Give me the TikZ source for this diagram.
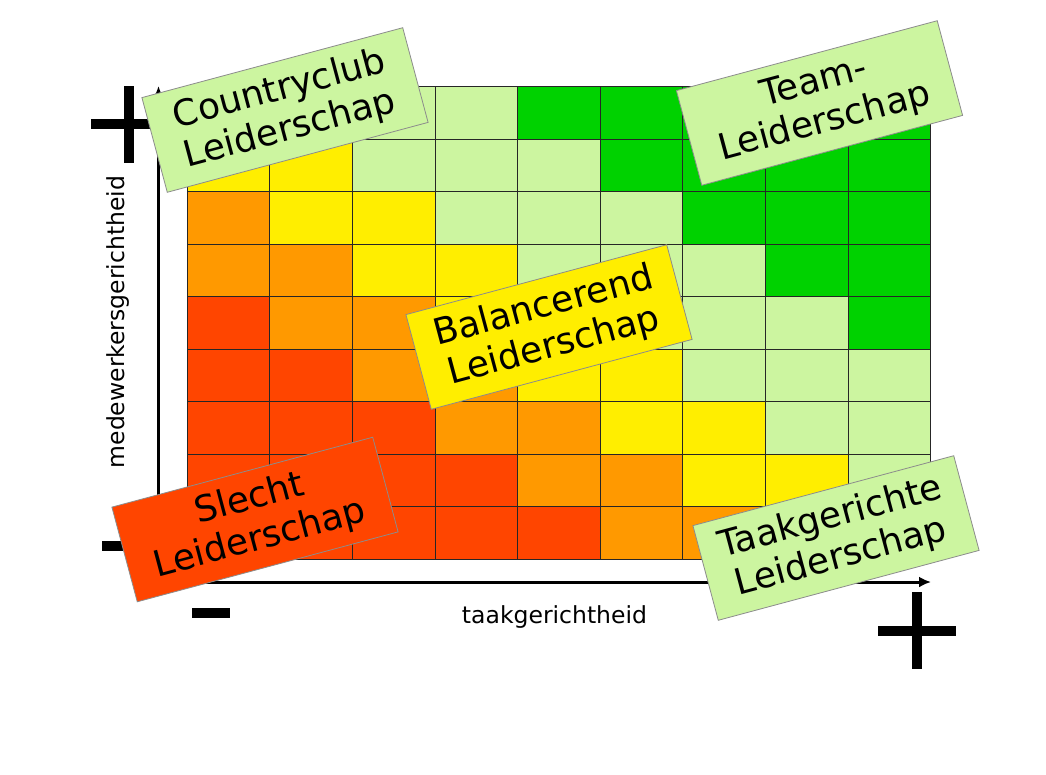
\documentclass[tikz,border=0pt]{standalone}
\usepackage{fontspec}
\setmainfont{DejaVu Sans}
\usetikzlibrary{arrows.meta}
\definecolor{cR}{HTML}{FF4500}
\definecolor{cO}{HTML}{FF9900}
\definecolor{cY}{HTML}{FFEE00}
\definecolor{cL}{HTML}{CCF5A0}
\definecolor{cG}{HTML}{00D200}
\tikzset{
  gridline/.style={draw=black!85, line width=1.1pt},
  axisline/.style={line width=3pt, -{Latex[length=12pt,width=11pt]}},
  signbar/.style={line width=10pt, line cap=butt},
  lbl/.style={draw=black!45, line width=0.8pt, rotate=15, minimum width=270pt,
    minimum height=98pt, align=center, inner sep=0pt,
    font=\fontsize{36}{41}\selectfont},
  axlabel/.style={font=\fontsize{23.5}{28}\selectfont, inner sep=0pt}
}
\begin{document}
\begin{tikzpicture}[x=1pt,y=-1pt]
\useasboundingbox (0,0) rectangle (1046,774);
\fill[white] (0,0) rectangle (1046,774);
% grid cells
\foreach \row [count=\r from 0] in {
  {Y,L,L,L,G,G,G,G,G},
  {Y,Y,L,L,L,G,G,G,G},
  {O,Y,Y,L,L,L,G,G,G},
  {O,O,Y,Y,L,L,L,G,G},
  {R,O,O,Y,Y,L,L,L,G},
  {R,R,O,O,Y,Y,L,L,L},
  {R,R,R,O,O,Y,Y,L,L},
  {R,R,R,R,O,O,Y,Y,L},
  {R,R,R,R,R,O,O,Y,L}} {
  \foreach \c [count=\k from 0] in \row {
    \fill[c\c] ({187.3+\k*82.6},{86.7+\r*52.5}) rectangle ++(82.6,52.5);
  }
}
\foreach \k in {0,...,9} {
  \draw[gridline] ({187.3+\k*82.6},86.7) -- ({187.3+\k*82.6},559.2);
  \draw[gridline] (187.3,{86.7+\k*52.5}) -- (930.7,{86.7+\k*52.5});
}
% axes
\coordinate (origin) at (158.5,582);
\coordinate (ytop) at (158.5,86);
\coordinate (xend) at (931,582);
\draw[axisline] (origin) -- (ytop);
\draw[axisline] (origin) -- (xend);
% plus and minus signs
\draw[signbar] (91,123.5) -- (167,123.5);
\draw[signbar] (129,86) -- (129,163);
\draw[signbar] (878,631) -- (956,631);
\draw[signbar] (917,592) -- (917,669);
\draw[signbar] (102,545.5) -- (140,545.5);
\draw[signbar] (192,613) -- (230,613);
% axis labels
\node[axlabel] (xlab) at (554.5,617) {taakgerichtheid};
\node[axlabel, rotate=90] (ylab) at (118,322) {medewerkersgerichtheid};
% labels
\node[lbl, fill=cL] (country) at (285,110) {Countryclub\\Leiderschap};
\node[lbl, fill=cL] (team) at (819.5,103) {Team-\\Leiderschap};
\node[lbl, fill=cY] (balans) at (549,327) {Balancerend\\Leiderschap};
\node[lbl, fill=cR] (slecht) at (255,519.5) {Slecht\\Leiderschap};
\node[lbl, fill=cL] (taak) at (836,538) {Taakgerichte\\Leiderschap};
\end{tikzpicture}
\end{document}
